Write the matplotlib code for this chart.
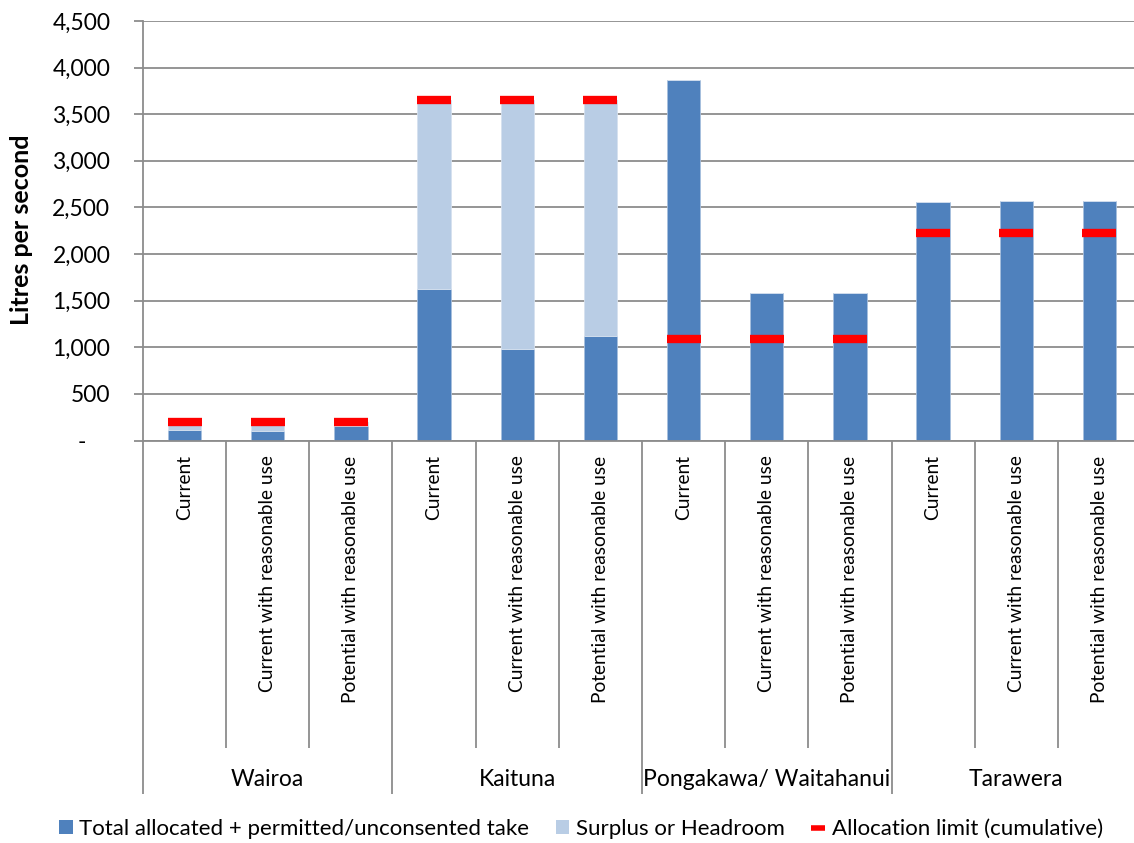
import matplotlib
matplotlib.use("Agg")
import matplotlib.pyplot as plt
import matplotlib.transforms as mtransforms
from matplotlib.patches import Patch
from matplotlib.lines import Line2D

# ---- data ----
groups = ["Wairoa", "Kaituna", "Pongakawa/ Waitahanui", "Tarawera"]
scenarios = ["Current", "Current with reasonable use", "Potential with reasonable use"]
allocated = [110, 100, 155, 1625, 980, 1125, 3865, 1580, 1580, 2560, 2570, 2570]
surplus = [90, 100, 45, 2025, 2670, 2525, 0, 0, 0, 0, 0, 0]
alloc_limit = [200, 200, 200, 3650, 3650, 3650, 1085, 1085, 1085, 2230, 2230, 2230]
y_ticks = [0, 500, 1000, 1500, 2000, 2500, 3000, 3500, 4000, 4500]
series_names = ["Total allocated + permitted/unconsented take", "Surplus or Headroom",
                "Allocation limit (cumulative)"]

FONT = "Lato"
plt.rcParams["font.family"] = [FONT, "DejaVu Sans"]

W, H = 1134, 843
fig = plt.figure(figsize=(W / 100, H / 100), dpi=100)
# axes in pixel coords
ax_l, ax_r, ax_t, ax_b = 143, 1141, 21, 440.5
ax = fig.add_axes([ax_l / W, 1 - ax_b / H, (ax_r - ax_l) / W, (ax_b - ax_t) / H])
ax_h = ax_b - ax_t

BLUE = "#4F81BD"
LBLUE = "#B9CDE5"
GRID = "#8C8C8C"

n = len(allocated)
x = list(range(n))
ax.bar(x, allocated, width=0.4, color=BLUE, edgecolor="#A7BFDE", linewidth=0.6, zorder=2)
ax.bar(x, surplus, width=0.4, bottom=allocated, color=LBLUE, edgecolor="#D6E1EF",
       linewidth=0.6, zorder=2)
ax.plot(x, alloc_limit, ls="none", marker="_", ms=25, mew=6, color="#FF0000", zorder=3)

ax.set_xlim(-0.5, n - 0.5)
ax.set_ylim(0, 4500)
ax.set_yticks(y_ticks)
ax.set_yticklabels([f"{v:,}" if v else "-    " for v in y_ticks])
ax.yaxis.grid(True, color=GRID, lw=1.3, zorder=0)
ax.set_axisbelow(True)
for s in ["top", "right"]:
    ax.spines[s].set_visible(False)
ax.spines["left"].set_color(GRID)
ax.spines["left"].set_linewidth(1.3)
ax.spines["bottom"].set_color(GRID)
ax.spines["bottom"].set_linewidth(1.3)
ax.tick_params(axis="y", length=6.5, width=1.3, color=GRID, pad=17, labelsize=16.5,
               labelcolor="black")
ax.set_xticks([])

# category labels
xt = ax.get_xaxis_transform()
lab_tr = mtransforms.offset_copy(xt, fig=fig, y=-15, units="dots")
for i in x:
    ax.text(i, 0, scenarios[i % 3], transform=lab_tr, rotation=90, ha="center", va="top",
            fontsize=13.8, clip_on=False)

# separators
for k in range(n + 1):
    xs = k - 0.5
    depth = 353 if k % 3 == 0 else 307
    ax.plot([xs, xs], [0, -depth / ax_h], transform=xt, color=GRID, lw=1.3,
            clip_on=False, solid_capstyle="butt")

# group labels
grp_y = -(779 - ax_b) / ax_h
for g, name in enumerate(groups):
    ax.text(3 * g + 1, grp_y, name, transform=xt, ha="center", va="center",
            fontsize=16.5, clip_on=False)

fig.text(22 / W, 1 - 230 / H, "Litres per second", rotation=90, ha="center", va="center",
         fontsize=18, fontweight="bold")

handles = [Patch(facecolor=BLUE, edgecolor="none"),
           Patch(facecolor=LBLUE, edgecolor="none"),
           Line2D([], [], ls="none", marker="_", ms=10, mew=4, color="#FF0000")]
fig.legend(handles, series_names, loc="center", bbox_to_anchor=(581 / W, 1 - 829 / H),
           ncol=3, frameon=False, fontsize=16, handlelength=0.6, handleheight=0.6,
           handletextpad=0.3, columnspacing=1.2, borderaxespad=0)

fig.savefig("out.png", dpi=100)
